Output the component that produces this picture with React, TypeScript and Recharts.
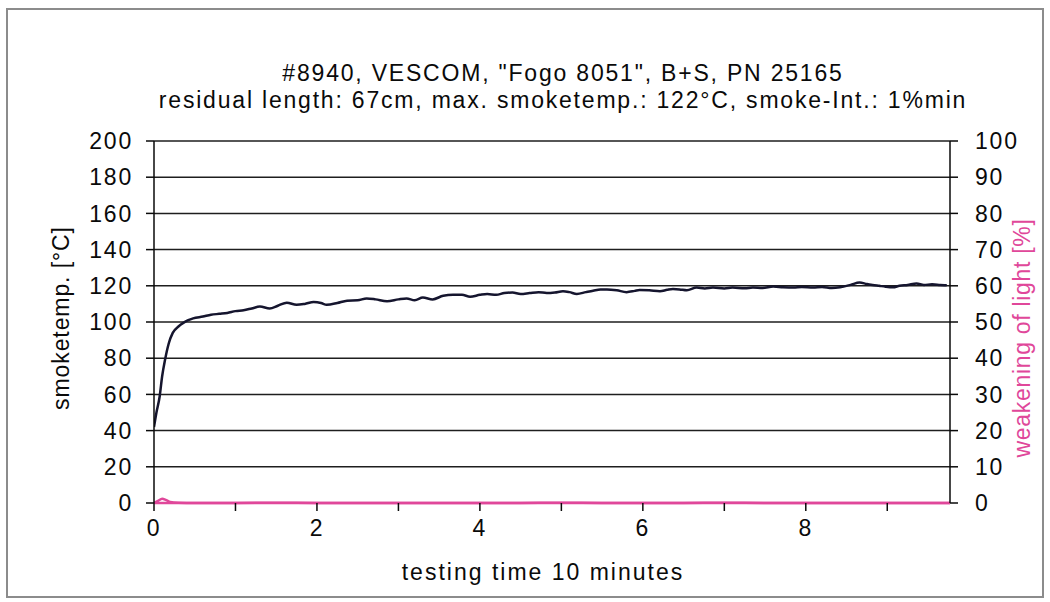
import React from "react"
import { LineChart, Line, XAxis, YAxis, CartesianGrid, Label } from "recharts"

// smoke temperature readings (time in minutes)
const timeMin = [
  0, 0.03, 0.07, 0.1, 0.135, 0.18, 0.23, 0.3, 0.36, 0.42, 0.48, 0.6, 0.7, 0.8, 0.9, 1.0, 1.1, 1.2, 1.3, 1.42,
  1.52, 1.63, 1.75, 1.85, 1.96, 2.05, 2.12, 2.25, 2.37, 2.5, 2.61, 2.72, 2.86, 3.0, 3.1, 3.2, 3.3, 3.42, 3.55,
  3.67, 3.78, 3.88, 4.0, 4.09, 4.2, 4.3, 4.4, 4.5, 4.61, 4.72, 4.82, 4.92, 5.02, 5.1, 5.19, 5.3, 5.39, 5.48,
  5.56, 5.68, 5.8, 5.9, 5.96, 6.08, 6.21, 6.3, 6.37, 6.45, 6.54, 6.66, 6.76, 6.86, 7.0, 7.1, 7.25, 7.35, 7.47,
  7.6, 7.72, 7.85, 7.95, 8.09, 8.2, 8.32, 8.42, 8.55, 8.66, 8.75, 8.82, 8.9, 8.98, 9.07, 9.15, 9.25, 9.36,
  9.45, 9.55, 9.65, 9.73,
]
const smokeTemp = [
  42, 50, 59, 70, 79, 88, 94, 97.5, 99.5, 101, 102, 103, 104, 104.5, 105, 106, 106.5, 107.5, 108.5, 107.5,
  109, 110.7, 109.5, 110, 111, 110.5, 109.5, 110.5, 111.8, 112, 113, 112.5, 111.5, 112.5, 113, 112, 113.5, 112.5, 114.5,
  115, 115, 114, 115, 115.5, 115, 116, 116.3, 115.5, 116, 116.5, 116, 116.3, 117, 116.5, 115.5, 116.5, 117.3, 118,
  118, 117.5, 116.5, 117.2, 117.7, 117.5, 117, 117.8, 118.2, 118, 117.5, 119, 118.5, 119, 118.5, 119, 118.6, 119, 118.8,
  119.6, 119.2, 119, 119.3, 119, 119.4, 118.8, 119.2, 120.5, 121.8, 121, 120.5, 120, 119.5, 119.2, 120, 120.5, 121.3,
  120.5, 120.8, 120.5, 120.3,
]

// weakening of light readings
const lightTime = [0, 0.05, 0.1, 0.15, 0.2, 0.3, 0.5, 1, 1.5, 2, 2.5, 3, 3.5, 4, 4.5, 5, 5.5, 6, 6.5, 7, 7.5, 8, 8.5, 9, 9.5, 9.77]
const lightPct = [0, 0.6, 1.2, 0.8, 0.3, 0.1, 0, 0, 0.1, 0, 0, 0, 0, 0, 0, 0.1, 0, 0, 0, 0.1, 0, 0, 0, 0, 0, 0]

const xTicks = [0, 1, 2, 3, 4, 5, 6, 7, 8, 9]
const tempTicks = [0, 20, 40, 60, 80, 100, 120, 140, 160, 180, 200]
const lightTicks = [0, 10, 20, 30, 40, 50, 60, 70, 80, 90, 100]

const titleLines = [
  '#8940, VESCOM, "Fogo 8051", B+S, PN 25165',
  "residual length: 67cm, max. smoketemp.: 122°C, smoke-Int.: 1%min",
]

const tempData = timeMin.map((t, i) => ({ t, temp: smokeTemp[i] }))
const lightData = lightTime.map((t, i) => ({ t, light: lightPct[i] }))

const font = "'Liberation Sans', Arial, sans-serif"
const pink = "#e0479a"
const ink = "#0a0a0a"

export default function App() {
  return (
    <div
      style={{
        position: "absolute",
        left: 0,
        top: 0,
        width: 1050,
        height: 602,
        background: "#fff",
        fontFamily: font,
        letterSpacing: "1.8px",
      }}
    >
      <div
        style={{
          position: "absolute",
          left: 6,
          top: 8,
          width: 1034,
          height: 586,
          border: "2px solid #8c8c8c",
        }}
      />
      {titleLines.map((line, i) => (
        <div
          key={i}
          style={{
            position: "absolute",
            left: 0,
            width: 1126,
            top: 59 + i * 27,
            textAlign: "center",
            fontSize: 23,
            lineHeight: "28px",
            color: ink,
          }}
        >
          {line}
        </div>
      ))}
      <LineChart
        width={1050}
        height={602}
        margin={{ top: 141, right: 30, left: 94, bottom: 39 }}
        style={{ position: "absolute", left: 0, top: 0 }}
      >
        <CartesianGrid yAxisId="left" vertical={false} stroke="#1e1e1e" strokeWidth={1.5} />
        <XAxis
          type="number"
          dataKey="t"
          domain={[0, 9.77]}
          ticks={xTicks}
          interval={0}
          allowDataOverflow
          height={60}
          tickSize={8}
          tickMargin={9}
          tickFormatter={(v) => (v % 2 === 0 ? String(v) : "")}
          tick={{ fill: ink, fontSize: 23 }}
          axisLine={{ stroke: pink, strokeWidth: 2.5 }}
          tickLine={{ stroke: ink, strokeWidth: 1.5 }}
        >
          <Label
            content={({ viewBox }: any) => (
              <text
                x={viewBox.x + viewBox.width / 2 - 9}
                y={viewBox.y + 69}
                textAnchor="middle"
                dominantBaseline="central"
                fontSize={23}
                fill={ink}
                style={{ letterSpacing: "2px" }}
              >
                testing time 10 minutes
              </text>
            )}
          />
        </XAxis>
        <YAxis
          yAxisId="left"
          width={60}
          domain={[0, 200]}
          ticks={tempTicks}
          interval={0}
          tickSize={8}
          tickMargin={13}
          tick={{ fill: ink, fontSize: 23 }}
          stroke={ink}
          strokeWidth={1.5}
        >
          <Label
            content={({ viewBox }: any) => {
              const cx = viewBox.x - 33
              const cy = viewBox.y + viewBox.height / 2 - 4
              return (
                <text
                  x={cx}
                  y={cy}
                  transform={`rotate(-90 ${cx} ${cy})`}
                  textAnchor="middle"
                  dominantBaseline="central"
                  fontSize={23}
                  fill={ink}
                  style={{ letterSpacing: "0.9px" }}
                >
                  smoketemp. [°C]
                </text>
              )
            }}
          />
        </YAxis>
        <YAxis
          yAxisId="right"
          orientation="right"
          width={70}
          domain={[0, 100]}
          ticks={lightTicks}
          interval={0}
          tickSize={8}
          tickMargin={17}
          tick={{ fill: ink, fontSize: 23 }}
          stroke={ink}
          strokeWidth={1.5}
        >
          <Label
            content={({ viewBox }: any) => {
              const cx = viewBox.x + 72
              const cy = viewBox.y + viewBox.height / 2 + 16
              return (
                <text
                  x={cx}
                  y={cy}
                  transform={`rotate(-90 ${cx} ${cy})`}
                  textAnchor="middle"
                  dominantBaseline="central"
                  fontSize={23}
                  fill={pink}
                  style={{ letterSpacing: "0.7px" }}
                >
                  weakening of light [%]
                </text>
              )
            }}
          />
        </YAxis>
        <Line
          yAxisId="right"
          data={lightData}
          dataKey="light"
          type="monotone"
          stroke={pink}
          strokeWidth={2.5}
          dot={false}
          isAnimationActive={false}
        />
        <Line
          yAxisId="left"
          data={tempData}
          dataKey="temp"
          type="monotone"
          stroke="#15152e"
          strokeWidth={2.5}
          dot={false}
          isAnimationActive={false}
        />
      </LineChart>
    </div>
  )
}
